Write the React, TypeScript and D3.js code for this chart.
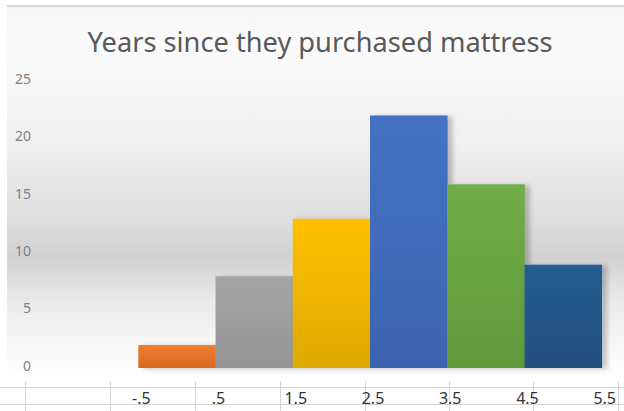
import React from "react";
import * as d3 from "d3";

const title = "Years since they purchased mattress";
const binEdges = ["-.5", ".5", "1.5", "2.5", "3.5", "4.5", "5.5"];
const binLabels = ["0", "1", "2", "3", "4", "5"];
const counts = [2, 8, 13, 22, 16, 9];
const barColors = ["#ed7d31", "#a5a5a5", "#ffc000", "#4472c4", "#70ad47", "#255e91"];
const barColorsDark = ["#da6a1e", "#949494", "#deaa00", "#3b64b0", "#62993c", "#224f7e"];
const yTicks = [0, 5, 10, 15, 20, 25];
const sheetColumns = [25, 110, 195, 280, 365, 449, 533, 618];

const W = 624;
const H = 411;

export default function App() {
  const x = d3.scaleBand<string>().domain(binLabels).range([138.3, 601.7]).padding(0);
  const y = d3.scaleLinear().domain([0, 25]).range([368, 81]);
  const edgeX = (i: number) => 138.3 + i * x.step();
  const font = "'Noto Sans', 'Open Sans', sans-serif";

  return (
    <svg width={W} height={H} style={{ position: "absolute", left: 0, top: 0 }} xmlns="http://www.w3.org/2000/svg">
      <defs>
        <linearGradient id="bg" gradientUnits="userSpaceOnUse" x1="0" y1="7" x2="0" y2="381">
          <stop offset="0" stopColor="#f5f5f5" />
          <stop offset="0.1" stopColor="#fbfbfb" />
          <stop offset="0.35" stopColor="#f1f1f1" />
          <stop offset="0.58" stopColor="#dcdcdc" />
          <stop offset="0.67" stopColor="#d1d1d1" />
          <stop offset="0.78" stopColor="#e9e9e9" />
          <stop offset="0.93" stopColor="#fafafa" />
          <stop offset="1" stopColor="#ffffff" />
        </linearGradient>
        {barColors.map((c, i) => (
          <linearGradient key={i} id={`bar${i}`} x1="0" y1="0" x2="0" y2="1">
            <stop offset="0" stopColor={c} />
            <stop offset="1" stopColor={barColorsDark[i]} />
          </linearGradient>
        ))}
        <filter id="shadow" x="-20%" y="-20%" width="140%" height="140%">
          <feGaussianBlur in="SourceAlpha" stdDeviation="2.5" />
          <feOffset dx="5" dy="1" result="b" />
          <feComponentTransfer>
            <feFuncA type="linear" slope="0.22" />
          </feComponentTransfer>
          <feMerge>
            <feMergeNode />
            <feMergeNode in="SourceGraphic" />
          </feMerge>
        </filter>
      </defs>
      <rect x={0} y={0} width={W} height={H} fill="#ffffff" />
      <rect x={7} y={7} width={W - 7} height={374} fill="url(#bg)" />
      <line x1={7} x2={W} y1={6} y2={6} stroke="#d6d6d6" strokeWidth={2} />

      <text
        x={320}
        y={52}
        textAnchor="middle"
        fontFamily={font}
        fontSize={27}
        fill="#595959"
        textLength={465}
        lengthAdjust="spacingAndGlyphs"
      >
        {title}
      </text>

      {yTicks.map((t) => (
        <text
          key={t}
          x={31}
          y={y(t) - 1}
          textAnchor="end"
          dominantBaseline="middle"
          fontFamily={font}
          fontSize={14}
          fill="#808080"
        >
          {t}
        </text>
      ))}

      <g filter="url(#shadow)">
        {counts.map((v, i) => (
          <rect
            key={i}
            x={x(binLabels[i])!}
            y={y(v)}
            width={x.bandwidth() + 0.4}
            height={y(0) - y(v)}
            fill={`url(#bar${i})`}
          />
        ))}
      </g>

      {/* spreadsheet grid below the chart */}
      <line x1={0} x2={W} y1={387.5} y2={387.5} stroke="#d4d4d4" />
      <line x1={0} x2={W} y1={404.5} y2={404.5} stroke="#d4d4d4" />
      {sheetColumns.map((cx) => (
        <line key={cx} x1={cx + 0.5} x2={cx + 0.5} y1={381} y2={H} stroke="#d4d4d4" />
      ))}

      {binEdges.map((lbl, i) => (
        <text
          key={lbl}
          x={edgeX(i) + 3}
          y={404}
          textAnchor="middle"
          fontFamily={font}
          fontSize={16}
          fill="#333333"
        >
          {lbl}
        </text>
      ))}
    </svg>
  );
}
